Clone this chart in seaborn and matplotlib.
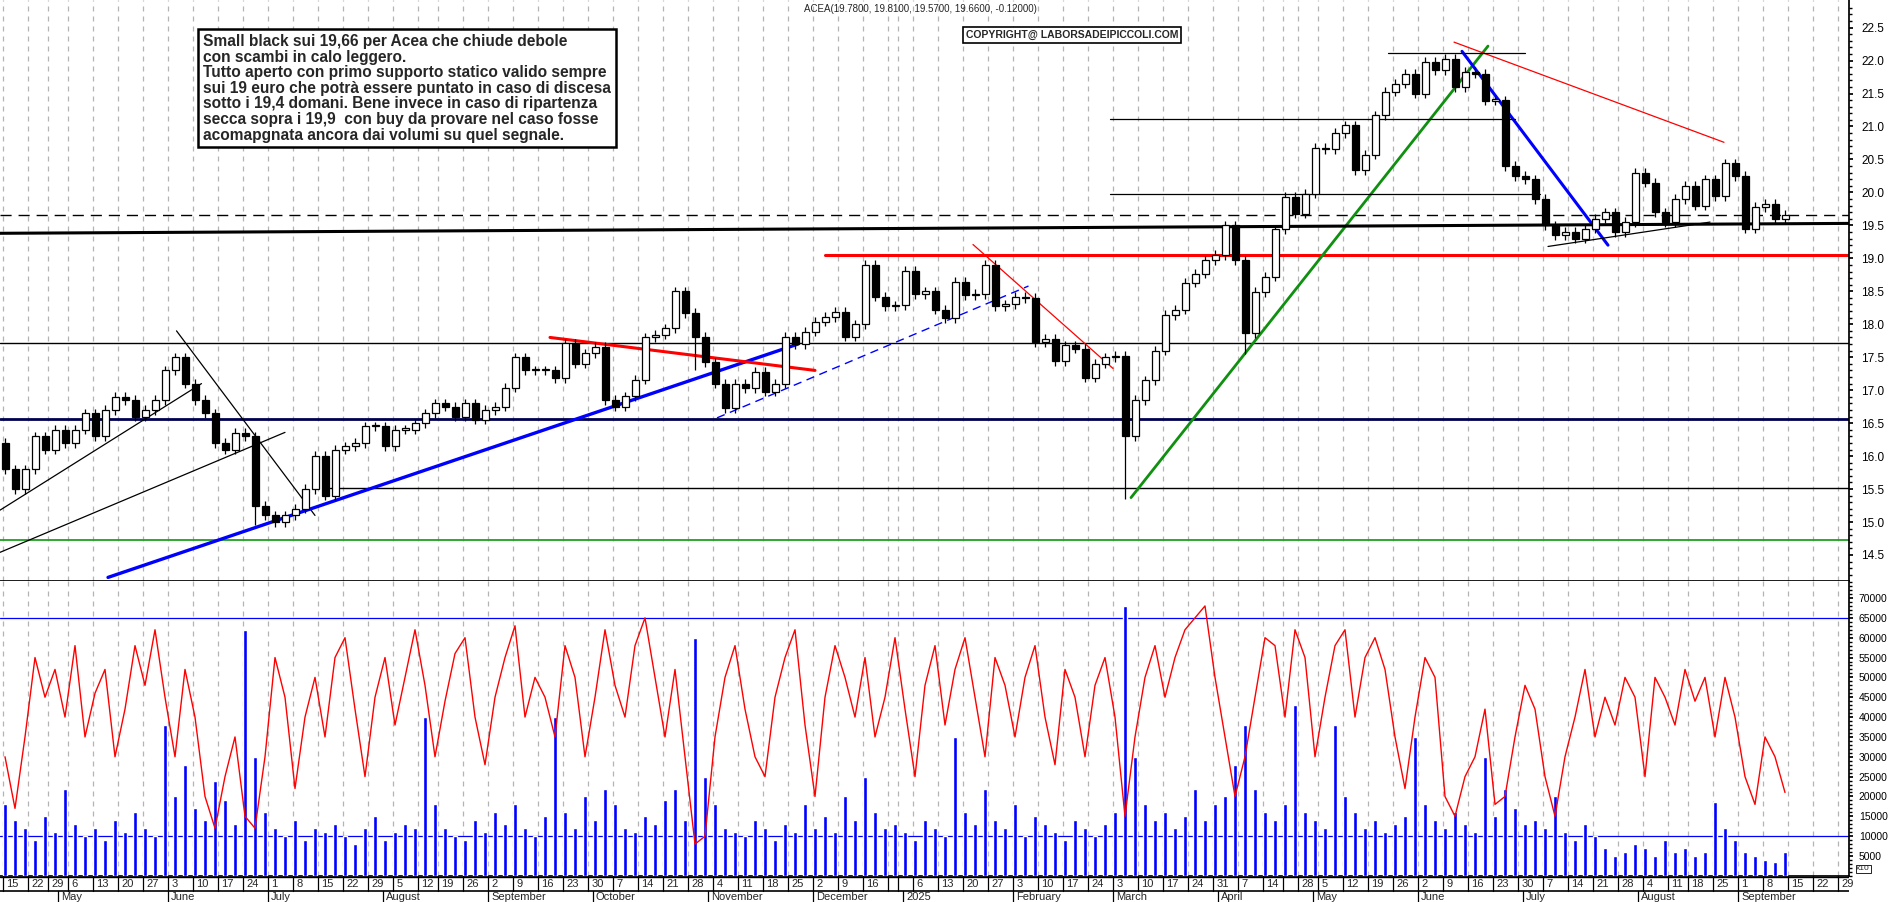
import matplotlib
matplotlib.use("Agg")
import matplotlib.pyplot as plt
import seaborn as sns
import numpy as np
import pandas as pd

sns.set_theme(style="white")
plt.rcParams["font.family"] = "Liberation Sans"

# ---------------- data ----------------
closes = [15.8, 15.5, 15.8, 16.3, 16.1, 16.4, 16.2, 16.4, 16.65, 16.3,
          16.7, 16.9, 16.85, 16.6, 16.7, 16.85, 17.3, 17.5, 17.1, 16.85,
          16.65, 16.2, 16.1, 16.35, 16.3, 15.25, 15.1, 15.0, 15.1, 15.2,
          15.5, 16.0, 15.4, 16.1, 16.15, 16.2, 16.45, 16.45, 16.15, 16.4,
          16.4, 16.5, 16.65, 16.8, 16.75, 16.6, 16.8, 16.55, 16.7, 16.75,
          17.04, 17.5, 17.3, 17.3, 17.3, 17.18, 17.71, 17.4, 17.56, 17.66,
          16.85, 16.75, 16.91, 17.16, 17.8, 17.84, 17.94, 18.5, 18.17, 17.81,
          17.42, 17.1, 16.73, 17.1, 17.03, 17.28, 16.98, 17.1, 17.81, 17.7,
          17.89, 18.04, 18.11, 18.19, 17.81, 18.0, 18.9, 18.42, 18.27, 18.29,
          18.81, 18.46, 18.5, 18.22, 18.09, 18.64, 18.44, 18.46, 18.9, 18.27,
          18.3, 18.42, 18.4, 17.73, 17.78, 17.44, 17.68, 17.63, 17.19, 17.4,
          17.5, 17.52, 16.3, 16.85, 17.15, 17.6, 18.14, 18.22, 18.63, 18.77,
          18.97, 19.05, 19.5, 18.97, 17.86, 18.49, 18.72, 19.44, 19.93, 19.68,
          19.98, 20.68, 20.66, 20.9, 21.02, 20.34, 20.57, 21.17, 21.53, 21.65,
          21.8, 21.5, 21.98, 21.85, 22.03, 21.6, 21.83, 21.8, 21.39, 21.4,
          20.4, 20.25, 20.2, 19.9, 19.5, 19.35, 19.4, 19.3, 19.45, 19.6,
          19.7, 19.4, 19.55, 20.3, 20.15, 19.7, 19.55, 19.9, 20.1, 19.8,
          20.2, 19.94, 20.44, 20.25, 19.45, 19.78, 19.83, 19.6, 19.66]
first_open = 16.2
low_override = {112: 15.35, 124: 17.55, 25: 14.95, 69: 17.3}

volumes_k = [18, 14, 12, 9, 15, 11, 22, 13, 10, 12,
             9, 14, 11, 16, 12, 10, 38, 20, 28, 17,
             14, 24, 19, 13, 62, 30, 16, 12, 10, 14,
             9, 12, 11, 13, 10, 8, 12, 15, 9, 11,
             13, 12, 40, 18, 12, 10, 9, 14, 11, 16,
             13, 18, 12, 10, 15, 40, 16, 12, 20, 14,
             22, 18, 12, 11, 15, 13, 19, 22, 14, 60,
             25, 18, 12, 11, 10, 14, 12, 9, 13, 11,
             18, 12, 15, 11, 20, 14, 25, 16, 12, 13,
             11, 9, 14, 12, 10, 35, 16, 13, 22, 14,
             12, 18, 10, 15, 13, 11, 9, 14, 12, 10,
             13, 16, 68, 30, 18, 14, 16, 12, 15, 22,
             14, 18, 20, 28, 38, 22, 16, 14, 18, 43,
             16, 14, 12, 38, 20, 16, 12, 14, 11, 13,
             15, 35, 18, 14, 12, 16, 13, 11, 30, 15,
             22, 17, 13, 14, 12, 20, 11, 9, 13, 10,
             7, 5, 6, 8, 7, 5, 9, 6, 7, 5,
             6, 18.5, 12, 9, 6, 5, 4, 3.5, 6]

oscillator_k = [30, 17, 35, 55, 45, 52, 40, 58, 35, 46,
                52, 30, 42, 58, 48, 62, 45, 30, 52, 40,
                20, 12, 25, 35, 15, 12, 30, 55, 45, 22,
                40, 50, 35, 55, 60, 42, 25, 45, 55, 38,
                50, 62, 48, 30, 44, 56, 60, 40, 28, 45,
                55, 63, 40, 50, 45, 35, 58, 50, 30, 45,
                62, 48, 40, 58, 65, 50, 35, 52, 30, 8,
                10, 35, 50, 58, 42, 30, 25, 45, 55, 62,
                38, 20, 45, 58, 50, 40, 55, 35, 45, 60,
                42, 25, 48, 58, 38, 52, 60, 45, 30, 55,
                48, 35, 50, 58, 40, 28, 52, 45, 30, 48,
                55, 40, 15, 35, 50, 58, 45, 55, 62, 65,
                68, 50, 35, 20, 30, 45, 60, 58, 40, 62,
                55, 30, 45, 58, 62, 40, 55, 60, 52, 35,
                22, 40, 55, 50, 20, 15, 25, 30, 42, 18,
                20, 35, 48, 42, 25, 15, 30, 40, 52, 35,
                45, 38, 50, 45, 25, 50, 45, 38, 52, 44,
                50, 35, 50, 40, 25, 18, 35, 30, 21, 36, 32][:179]

month_names = ["May", "June", "July", "August", "September", "October",
               "November", "December", "2025", "February", "March", "April",
               "May", "June", "July", "August", "September"]
holidays = ["2024-04-25", "2024-05-01", "2024-08-15", "2024-12-24", "2024-12-25",
            "2024-12-26", "2024-12-31", "2025-01-01", "2025-04-18", "2025-04-21",
            "2025-04-25", "2025-05-01", "2025-08-15"]

hlines = [  # price, start day, color, lw, style
    (19.66, None, "black", 1.0, (0, (8, 5))),
    (19.05, 164, "red", 2.2, "-"),
    (17.72, None, "black", 1.0, "-"),
    (16.57, None, "#000050", 2.0, "-"),
    (15.52, 65, "black", 1.0, "-"),
    (14.73, None, "#20a020", 1.3, "-"),
]
segs = [  # (d0,p0,d1,p1,color,lw,style)
    (-1, 15.18, 39.3, 17.1, "black", 0.9, "-"),
    (-1, 14.54, 56, 16.36, "black", 0.9, "-"),
    (34.3, 17.9, 62, 15.1, "black", 0.9, "-"),
    (20.6, 14.16, 158.6, 17.7, "blue", 2.4, "-"),
    (109, 17.8, 162, 17.3, "red", 2.2, "-"),
    (142.4, 16.58, 204.7, 18.58, "blue", 1.0, (0, (6, 4))),
    (193.6, 19.21, 221.6, 17.33, "red", 0.9, "-"),
    (225.2, 15.37, 296.6, 22.22, "#109010", 2.0, "-"),
    (291.4, 22.14, 320.6, 19.2, "blue", 2.2, "-"),
    (289.8, 22.28, 343.8, 20.76, "red", 0.9, "-"),
    (308.6, 19.18, 341, 19.55, "black", 0.9, "-"),
    (-1, 19.38, 368.8, 19.53, "black", 2.2, "-"),
    (221, 21.12, 302, 21.12, "black", 0.9, "-"),
    (221, 19.97, 307, 19.97, "black", 0.9, "-"),
    (276.5, 22.11, 304, 22.11, "black", 0.9, "-"),
]

# ---------------- calendar ----------------
cal = pd.bdate_range("2024-04-15", "2025-10-03")
cal = cal[~cal.isin(pd.to_datetime(holidays))]
cal_idx = np.arange(len(cal))

n = len(closes)
xs = np.arange(n) * 2
opens = [first_open] + closes[:-1]
highs = [max(o, c) + 0.07 for o, c in zip(opens, closes)]
lows = [low_override.get(i, min(o, c) - 0.07) for i, (o, c) in enumerate(zip(opens, closes))]

W, H = 1890, 902
fig = plt.figure(figsize=(W / 100, H / 100), dpi=100)
right = 1849 / W
ax1 = fig.add_axes([0, 1 - 581 / H, right, 581 / H])
ax2 = fig.add_axes([0, 1 - 876 / H, right, (876 - 581) / H])
ax3 = fig.add_axes([0, 0, right, 26 / H])
XL = (-1, 368.8)

iso = cal.isocalendar()
week_first = pd.Series(cal_idx, index=cal).groupby([iso.year.values, iso.week.values]).min()
week_pos = list(week_first.values)
# drop week labels too close to the next one (short holiday weeks)
keep = [i for i in range(len(week_pos))
        if i == len(week_pos) - 1 or week_pos[i + 1] - week_pos[i] > 3]
week_pos_lab = [week_pos[i] for i in keep]
week_lab = [str(cal[i].day) for i in week_pos_lab]
mkey = cal.year * 100 + cal.month
month_pos = pd.Series(cal_idx).groupby(mkey).min().values[1:]

for ax in (ax1, ax2):
    ax.set_xlim(*XL)
    ax.set_facecolor("white")
    for x in week_pos:
        ax.axvline(x - 0.5, color="#b4b4b4", lw=0.9, ls=(0, (4, 4)), zorder=0)
    ax.yaxis.tick_right()
    ax.tick_params(axis="y", which="both", direction="out", length=3, labelsize=8.5,
                   colors="black", pad=6, right=True)
    ax.set_xticks([])
    for s in ("top", "left"):
        ax.spines[s].set_visible(False)
    ax.spines["right"].set_color("black")
    ax.spines["bottom"].set_color("black")

# price panel
ax1.set_ylim(14.5 - 26 / 65.9, 22.5 + 27.6 / 65.9)
ax1.set_yticks(np.arange(14.5, 22.51, 0.5))
ax1.set_yticklabels([f"{v:.1f}" for v in np.arange(14.5, 22.51, 0.5)])
ax1.set_yticks(np.arange(14.2, 22.9, 0.1), minor=True)
ax1.tick_params(axis="y", which="minor", length=2, right=True)
for p, d0, col, lw, ls in hlines:
    ax1.plot([XL[0] if d0 is None else d0, XL[1]], [p, p], color=col, lw=lw, ls=ls, zorder=2)
for d0, p0, d1, p1, col, lw, ls in segs:
    ax1.plot([d0, d1], [p0, p1], color=col, lw=lw, ls=ls, zorder=3)
for x, o, h, l, c in zip(xs, opens, highs, lows, closes):
    ax1.vlines(x, l, h, color="black", lw=0.9, zorder=4)
    fc = "white" if c >= o else "black"
    ax1.bar(x, max(abs(c - o), 0.02), bottom=min(o, c), width=1.4, color=fc,
            edgecolor="black", linewidth=0.9, zorder=5)

# volume panel
vol_df = pd.DataFrame({"x": xs, "vol": np.array(volumes_k) * 1000,
                       "osc": np.array(oscillator_k) * 1000})
ax2.set_ylim(5000 - 20 / 3.97 * 1000, 70000 + 17 / 3.97 * 1000)
ax2.set_yticks(np.arange(5000, 70001, 5000))
ax2.set_yticklabels([str(v) for v in range(5000, 70001, 5000)])
ax2.tick_params(axis="y", which="major", labelsize=7.5, pad=4)
ax2.set_yticks(np.arange(0, 74001, 1000), minor=True)
ax2.tick_params(axis="y", which="minor", length=2, right=True)
ax2.axhline(65000, color="blue", lw=0.9)
ax2.axhline(10000, color="blue", lw=0.9)
ax2.bar(vol_df["x"], vol_df["vol"], width=0.8, color="blue", zorder=3)
sns.lineplot(data=vol_df, x="x", y="osc", ax=ax2, color="red", lw=1.0, zorder=4)
ax2.set_xlabel("")
ax2.set_ylabel("")
ax2.set_xlim(*XL)
ax2.text(1.004, 0.012, "x10", transform=ax2.transAxes, fontsize=6, va="bottom",
         bbox=dict(boxstyle="square,pad=0.1", fc="white", ec="black", lw=0.6))

# date axis
ax3.set_xlim(*XL)
ax3.set_ylim(0, 26)
ax3.axis("off")
ax3.plot(XL, [11, 11], color="black", lw=1.2)
ax3.plot(XL, [25.5, 25.5], color="black", lw=1.0)
for x in week_pos:
    ax3.plot([x - 0.5, x - 0.5], [11, 26], color="black", lw=0.9)
for x, lab in zip(week_pos_lab, week_lab):
    ax3.text(x + 0.3, 18, lab, fontsize=8, va="center", ha="left")
for x, lab in zip(month_pos, month_names):
    ax3.plot([x - 0.5, x - 0.5], [0, 11], color="black", lw=0.9)
    ax3.text(x + 0.2, 4.5, lab, fontsize=8, va="center", ha="left")

# texts
fig.text(804 / W, 1 - 9 / H, "ACEA(19.7800, 19.8100, 19.5700, 19.6600, -0.12000)",
         fontsize=7, va="center", ha="left")
fig.text(966 / W, 1 - 35 / H, "COPYRIGHT@ LABORSADEIPICCOLI.COM", fontsize=7.5,
         fontweight="bold", va="center", ha="left",
         bbox=dict(boxstyle="square,pad=0.25", fc="white", ec="black", lw=1.2))
note = ("Small black sui 19,66 per Acea che chiude debole\n"
        "con scambi in calo leggero.\n"
        "Tutto aperto con primo supporto statico valido sempre\n"
        "sui 19 euro che potrà essere puntato in caso di discesa\n"
        "sotto i 19,4 domani. Bene invece in caso di ripartenza\n"
        "secca sopra i 19,9  con buy da provare nel caso fosse\n"
        "acomapgnata ancora dai volumi su quel segnale.")
fig.text(203 / W, 1 - 34 / H, note, fontsize=11.2, fontweight="bold", va="top",
         ha="left", linespacing=1.05,
         bbox=dict(boxstyle="square,pad=0.3", fc="white", ec="black", lw=1.8))

fig.savefig("out.png", dpi=100, facecolor="white")
